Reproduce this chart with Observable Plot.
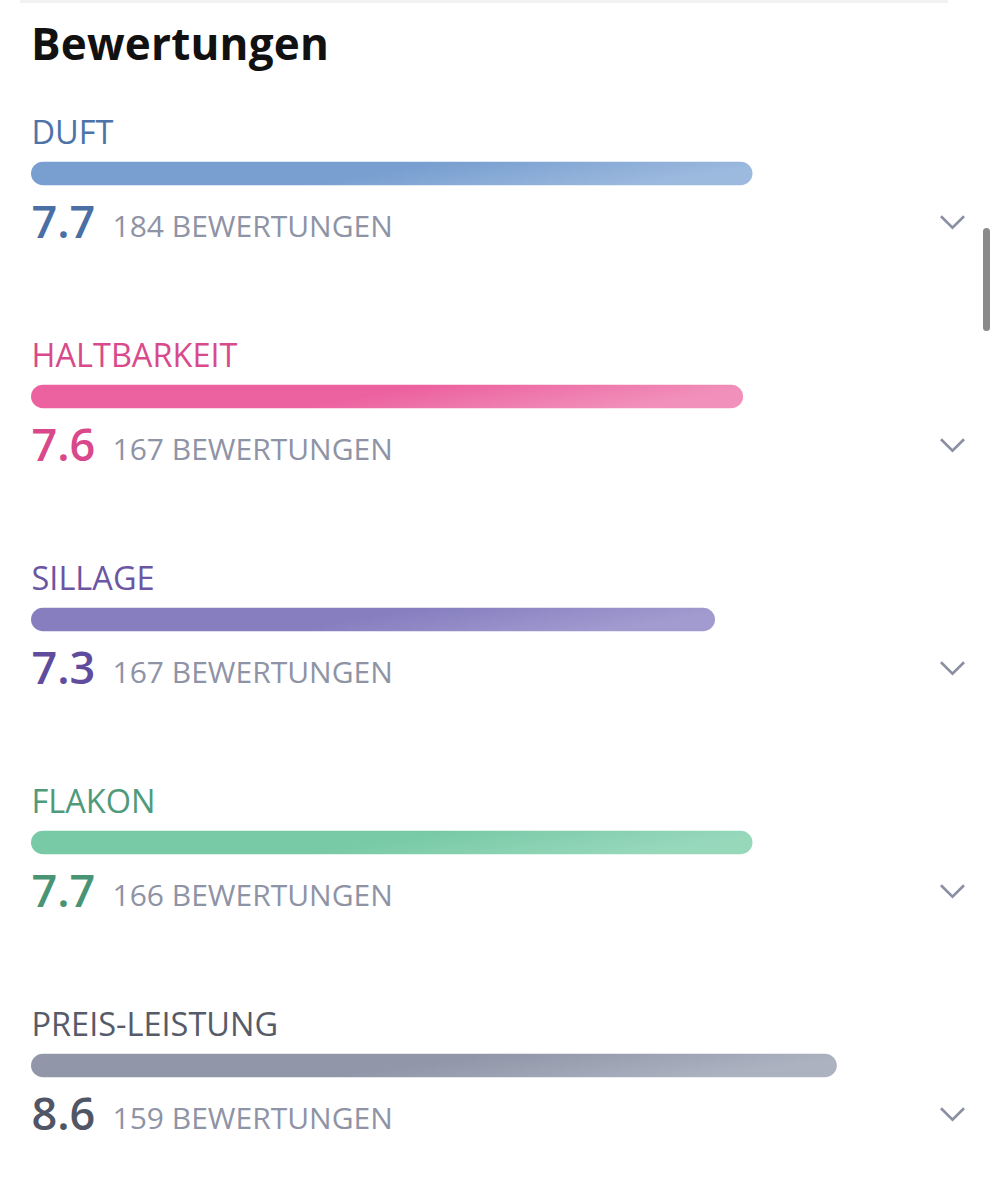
<!DOCTYPE html>
<html>
<head>
<meta charset="utf-8">
<script src="https://cdn.jsdelivr.net/npm/d3@7"></script>
<script src="https://cdn.jsdelivr.net/npm/@observablehq/plot@0.6"></script>
<style>
  html, body { margin: 0; padding: 0; background: #ffffff; }
  body { width: 998px; height: 1200px; position: relative; overflow: hidden; font-family: "Open Sans", sans-serif; }
  #topline { position: absolute; left: 20px; right: 50px; top: 0; height: 3px; background: #f1f2f4; }
  #header { position: relative; height: 90px; }
  #title { position: absolute; left: 31px; top: 13px; margin: 0; font-size: 44px; font-weight: 700; color: #111111; line-height: 60px; letter-spacing: 0.2px; }
  #scrollbar { position: absolute; left: 983px; top: 228px; width: 7px; height: 103px; border-radius: 4px; background: #8a8a8a; }
  svg { display: block; }
</style>
</head>
<body>
<div id="topline"></div>
<div id="header"><h1 id="title">Bewertungen</h1></div>
<div id="chart"></div>
<div id="scrollbar"></div>
<script>
const categories = ["DUFT", "HALTBARKEIT", "SILLAGE", "FLAKON", "PREIS-LEISTUNG"];
const scores = [7.7, 7.6, 7.3, 7.7, 8.6];
const counts = [184, 167, 167, 166, 159];
const labelColors = ["#4d74a9", "#d84a8b", "#6a56a2", "#4f9a7b", "#555b69"];
const valueColors = ["#4a6fa4", "#d9488a", "#5f4c9c", "#4a9476", "#505665"];
const barStart = ["#789fd0", "#ec62a0", "#867ebf", "#78c9a6", "#9196a8"];
const barEnd = ["#9cb9de", "#f191bb", "#a29bd0", "#97d8bb", "#adb2c1"];
const countColor = "#8e93a5";
const chevronColor = "#8a8fa2";

const rows = categories.map((c, i) => ({
  category: c, score: scores[i], count: counts[i], countLabel: `${counts[i]} BEWERTUNGEN`,
  zero: 0, idx: i
}));

const W = 998, H = 1110;
const pitch = 223.5, firstCenter = 82;
const r0 = firstCenter - pitch / 2;
const barH = 24;
const inset = (pitch - barH) / 2;

const chevron = {
  draw(context, size) {
    const s = Math.sqrt(size);
    context.moveTo(-s, -s / 2);
    context.lineTo(0, s / 2);
    context.lineTo(s, -s / 2);
  }
};

const marks = [];
rows.forEach((d, i) => {
  marks.push(Plot.barX([d], {
    x1: "zero", x2: "score", y: "category",
    fill: `url(#grad${i})`, rx: barH / 2, insetTop: inset, insetBottom: inset
  }));
  marks.push(Plot.text([d], {
    x: "zero", y: "category", text: "category", textAnchor: "start", lineAnchor: "bottom",
    dy: -30, fill: labelColors[i], fontSize: 32.5, fontFamily: "Open Sans"
  }));
  marks.push(Plot.text([d], {
    x: "zero", y: "category", text: (r) => r.score.toFixed(1), textAnchor: "start", lineAnchor: "bottom",
    dy: 64, fill: valueColors[i], fontSize: 45, fontWeight: 600, fontFamily: "Open Sans"
  }));
});
marks.push(Plot.text(rows, {
  x: "zero", y: "category", text: "countLabel", textAnchor: "start", lineAnchor: "bottom",
  dx: 81, dy: 63, fill: countColor, fontSize: 30, fontFamily: "Open Sans"
}));
marks.push(Plot.dot(rows, {
  y: "category", frameAnchor: "right", dx: -46, dy: 48, symbol: chevron, r: 6.5,
  fill: "none", stroke: chevronColor, strokeWidth: 2.6
}));

const plot = Plot.plot({
  width: W, height: H,
  marginTop: 0, marginBottom: 0, marginLeft: 0, marginRight: 0,
  x: { domain: [0, 10], range: [31, 968], axis: null },
  y: { type: "band", domain: categories, range: [r0, r0 + pitch * categories.length], padding: 0, axis: null },
  style: { background: "transparent", overflow: "visible" },
  marks
});

const svg = d3.select(plot);
const defs = svg.insert("defs", ":first-child");
categories.forEach((c, i) => {
  const g = defs.append("linearGradient").attr("id", `grad${i}`)
    .attr("x1", "0").attr("y1", "0").attr("x2", "1").attr("y2", "0.2");
  g.append("stop").attr("offset", "0").attr("stop-color", barStart[i]);
  g.append("stop").attr("offset", "0.55").attr("stop-color", barStart[i]);
  g.append("stop").attr("offset", "1").attr("stop-color", barEnd[i]);
});
document.getElementById("chart").appendChild(plot);
</script>
</body>
</html>
